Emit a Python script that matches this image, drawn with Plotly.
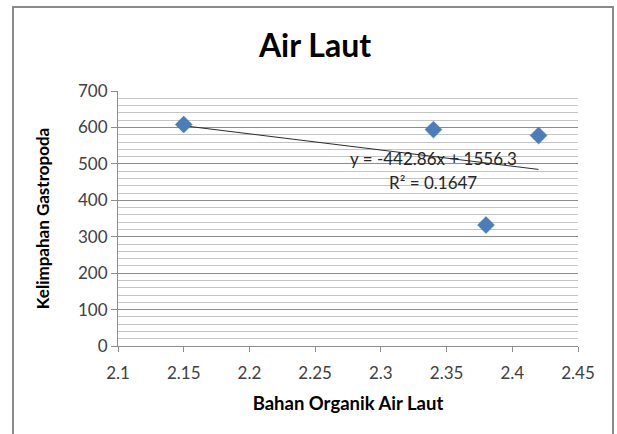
import numpy as np
import plotly.graph_objects as go

# Data
bahan_organik = [2.15, 2.34, 2.38, 2.42]
kelimpahan = [608, 594, 332, 578]
x_ticks = [2.1, 2.15, 2.2, 2.25, 2.3, 2.35, 2.4, 2.45]
y_ticks = [0, 100, 200, 300, 400, 500, 600, 700]
equation_text = "y = -442.86x + 1556.3"
r2_text = "R² = 0.1647"

# linear trend line (least squares) drawn over the data range
slope, intercept = np.polyfit(bahan_organik, kelimpahan, 1)
tx = [min(bahan_organik), max(bahan_organik)]
ty = [slope * v + intercept for v in tx]

FONT = "Lato"

fig = go.Figure()
fig.add_trace(go.Scatter(x=tx, y=ty, mode="lines",
                         line=dict(color="#2b2b2b", width=1),
                         hoverinfo="skip", showlegend=False))
fig.add_trace(go.Scatter(x=bahan_organik, y=kelimpahan, mode="markers",
                         marker=dict(symbol="diamond", size=13, color="#4a7ebb",
                                     line=dict(color="#3f6fa8", width=0.5)),
                         showlegend=False))

# plot-area pixel geometry
L, R, T, B = 118, 578, 91, 346
W, H = 617, 434
pw, ph = R - L, B - T


def px_x(p):
    return (p - L) / pw


def px_y(p):
    return (B - p) / ph


fig.update_layout(
    width=W, height=H,
    margin=dict(l=L, r=W - R, t=T, b=H - B),
    paper_bgcolor="white", plot_bgcolor="white",
    font=dict(family=FONT, color="#404040"),
    title=dict(text="<b>Air Laut</b>", x=px_x(315), xref="paper", xanchor="center",
               y=1 - 46 / H, yanchor="middle",
               font=dict(family=FONT, size=32, color="black")),
    xaxis=dict(range=[2.1, 2.45], tickvals=x_ticks,
               ticktext=[f"{v:g}" for v in x_ticks],
               showgrid=False, zeroline=False,
               showline=True, linecolor="#8c8c8c", linewidth=1,
               ticks="outside", ticklen=5, tickcolor="#8c8c8c",
               ticklabelstandoff=7,
               tickfont=dict(size=17, color="#404040"),
               title=dict(text="<b>Bahan Organik Air Laut</b>", standoff=14,
                          font=dict(size=18.5, color="black"))),
    yaxis=dict(range=[0, 700], tickvals=y_ticks,
               showgrid=True, gridcolor="#8c8c8c", gridwidth=1,
               minor=dict(dtick=20, showgrid=True, gridcolor="#c4c4c4", gridwidth=1),
               zeroline=False,
               showline=True, linecolor="#8c8c8c", linewidth=1,
               ticks="outside", ticklen=6, tickcolor="#8c8c8c",
               tickfont=dict(size=17, color="#404040"),
               title=dict(text="<b>Kelimpahan Gastropoda</b>", standoff=24,
                          font=dict(size=17, color="black"))),
    shapes=[dict(type="rect", xref="paper", yref="paper",
                 x0=px_x(13), x1=px_x(613), y0=px_y(440), y1=px_y(7),
                 line=dict(color="#8a8a8a", width=2), layer="below")],
    annotations=[
        dict(x=2.3397, y=516, xref="x", yref="y", text=equation_text,
             showarrow=False, xanchor="center", yanchor="middle",
             font=dict(family=FONT, size=17, color="#262626")),
        dict(x=2.3397, y=450, xref="x", yref="y", text=r2_text,
             showarrow=False, xanchor="center", yanchor="middle",
             font=dict(family=FONT, size=17, color="#262626")),
    ],
)

fig.write_html("out.html", config={"displayModeBar": False},
               post_script="document.body.style.margin='0';")
